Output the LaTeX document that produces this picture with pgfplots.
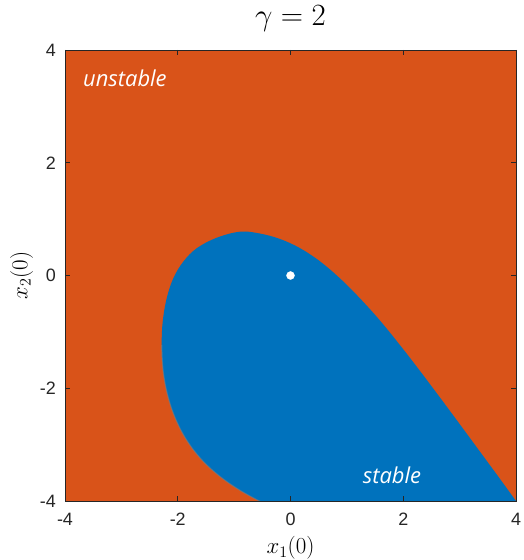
\documentclass[border=0pt]{standalone}
\usepackage{fix-cm}
\usepackage[no-math]{fontspec}
\usepackage{pgfplots}
\pgfplotsset{compat=1.18}
\newfontfamily\lib{Liberation Sans}
\newfontfamily\opensans{Open Sans}
\definecolor{morange}{RGB}{217,83,25}
\definecolor{mblue}{RGB}{0,114,189}
\definecolor{maxis}{RGB}{38,38,38}
\begin{document}
\begin{tikzpicture}
\useasboundingbox (0,0) rectangle (524bp,560bp);
\begin{axis}[
 at={(65bp,59bp)}, anchor=south west,
 scale only axis, width=451bp, height=451bp,
 xmin=-4, xmax=4, ymin=-4, ymax=4,
 xtick={-4,-2,0,2,4}, ytick={-4,-2,0,2,4},
 axis background/.style={fill=morange},
 axis on top,
 axis line style={maxis, line width=0.8bp},
 tick style={maxis, line width=0.8bp},
 major tick length=5bp,
 /pgf/number format/assume math mode=true,
 tick label style={font=\fontsize{18}{18}\selectfont\lib, text=maxis},
 xticklabel style={inner sep=0pt, anchor=north, yshift=-12bp},
 yticklabel style={inner sep=0pt, anchor=east, xshift=-9bp},
 title={$\gamma = 2$},
 title style={font=\fontsize{31}{33}\selectfont, at={(axis description cs:0.5,1)}, anchor=base, yshift=18.3bp, inner sep=0pt},
 xlabel={$x_1(0)$},
 xlabel style={font=\fontsize{23}{25}\selectfont, at={(axis description cs:0.5,-0.1175)}, anchor=base, inner sep=0pt},
 ylabel={$x_2(0)$},
 ylabel style={font=\fontsize{23}{25}\selectfont, at={(axis description cs:-0.0836,0.5)}, anchor=base, inner sep=0pt},
]
\addplot[fill=mblue, draw=none, smooth, tension=0.6] coordinates {
 (-0.176,-4.19)
 (-0.532,-4.012)
 (-0.914,-3.800)
 (-1.271,-3.549)
 (-1.590,-3.252)
 (-1.853,-2.903)
 (-2.051,-2.514)
 (-2.186,-2.099)
 (-2.262,-1.669)
 (-2.285,-1.233)
 (-2.267,-0.820)
 (-2.196,-0.404)
 (-2.079,-0.050)
 (-1.902,0.245)
 (-1.664,0.483)
 (-1.309,0.670)
 (-0.896,0.777)
 (-0.55,0.746)
 (-0.186,0.648)
 (0.169,0.485)
 (0.523,0.251)
 (0.878,-0.051)
 (1.233,-0.406)
 (1.588,-0.800)
 (1.942,-1.235)
 (2.297,-1.693)
 (2.652,-2.165)
 (3.007,-2.644)
 (3.361,-3.125)
 (3.716,-3.608)
 (4.0,-4.0)
 (4.15,-4.2)
 (2,-4.6)
};
\addplot[draw=gray, opacity=0.5, line width=1.2bp, smooth, tension=0.6] coordinates {
 (-0.176,-4.19)
 (-0.532,-4.012)
 (-0.914,-3.800)
 (-1.271,-3.549)
 (-1.590,-3.252)
 (-1.853,-2.903)
 (-2.051,-2.514)
 (-2.186,-2.099)
 (-2.262,-1.669)
 (-2.285,-1.233)
};
\addplot[only marks, mark=*, mark options={fill=white, draw=white}, mark size=4bp] coordinates {(0,0)};
\node[anchor=base west, text=white, font=\fontsize{22}{22}\selectfont\opensans\itshape, inner sep=0pt] at (axis cs:-3.68,3.36) {unstable};
\node[anchor=base west, text=white, font=\fontsize{22}{22}\selectfont\opensans\itshape, inner sep=0pt] at (axis cs:1.28,-3.686) {stable};
\end{axis}
\end{tikzpicture}
\end{document}
